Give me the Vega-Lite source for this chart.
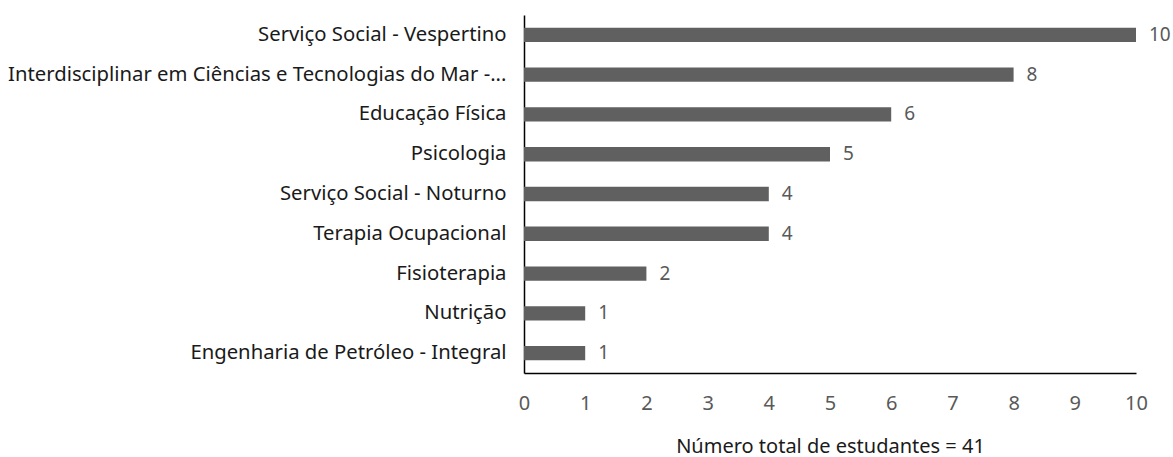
{
  "$schema": "https://vega.github.io/schema/vega-lite/v6.json",
  "autosize": {"type": "none"},
  "padding": {"left": 524, "top": 15, "right": 37, "bottom": 84},
  "width": 612,
  "height": 358,
  "background": "white",
  "config": {"view": {"stroke": null}, "font": "Noto Sans"},
  "data": {"values": [
    {"curso": "Serviço Social - Vespertino", "n": 10},
    {"curso": "Interdisciplinar em Ciências e Tecnologias do Mar -...", "n": 8},
    {"curso": "Educação Física", "n": 6},
    {"curso": "Psicologia", "n": 5},
    {"curso": "Serviço Social - Noturno", "n": 4},
    {"curso": "Terapia Ocupacional", "n": 4},
    {"curso": "Fisioterapia", "n": 2},
    {"curso": "Nutrição", "n": 1},
    {"curso": "Engenharia de Petróleo - Integral", "n": 1}
  ]},
  "encoding": {
    "y": {"field": "curso", "type": "nominal", "sort": null,
      "scale": {"paddingInner": 0.64, "paddingOuter": 0.32},
      "axis": {"title": null, "ticks": false, "domainColor": "#000000", "domainWidth": 1.5, "labelFontSize": 20.3, "labelColor": "#1a1a1a", "labelPadding": 18, "labelLimit": 600}},
    "x": {"field": "n", "type": "quantitative",
      "scale": {"domain": [0, 10], "nice": false},
      "axis": {"title": "Número total de estudantes = 41", "titleFontSize": 20, "titleFontWeight": "normal", "titleColor": "#1a1a1a", "titlePadding": 23, "grid": false, "ticks": false, "values": [0,1,2,3,4,5,6,7,8,9,10], "domainColor": "#000000", "domainWidth": 1.5, "labelFontSize": 20, "labelColor": "#595959", "labelPadding": 20, "labelFlush": false, "labelOverlap": false}}
  },
  "layer": [
    {"mark": {"type": "bar", "color": "#606060"}},
    {"mark": {"type": "text", "align": "left", "dx": 13, "fontSize": 19, "color": "#595959"},
     "encoding": {"text": {"field": "n", "type": "quantitative"}}}
  ]
}
